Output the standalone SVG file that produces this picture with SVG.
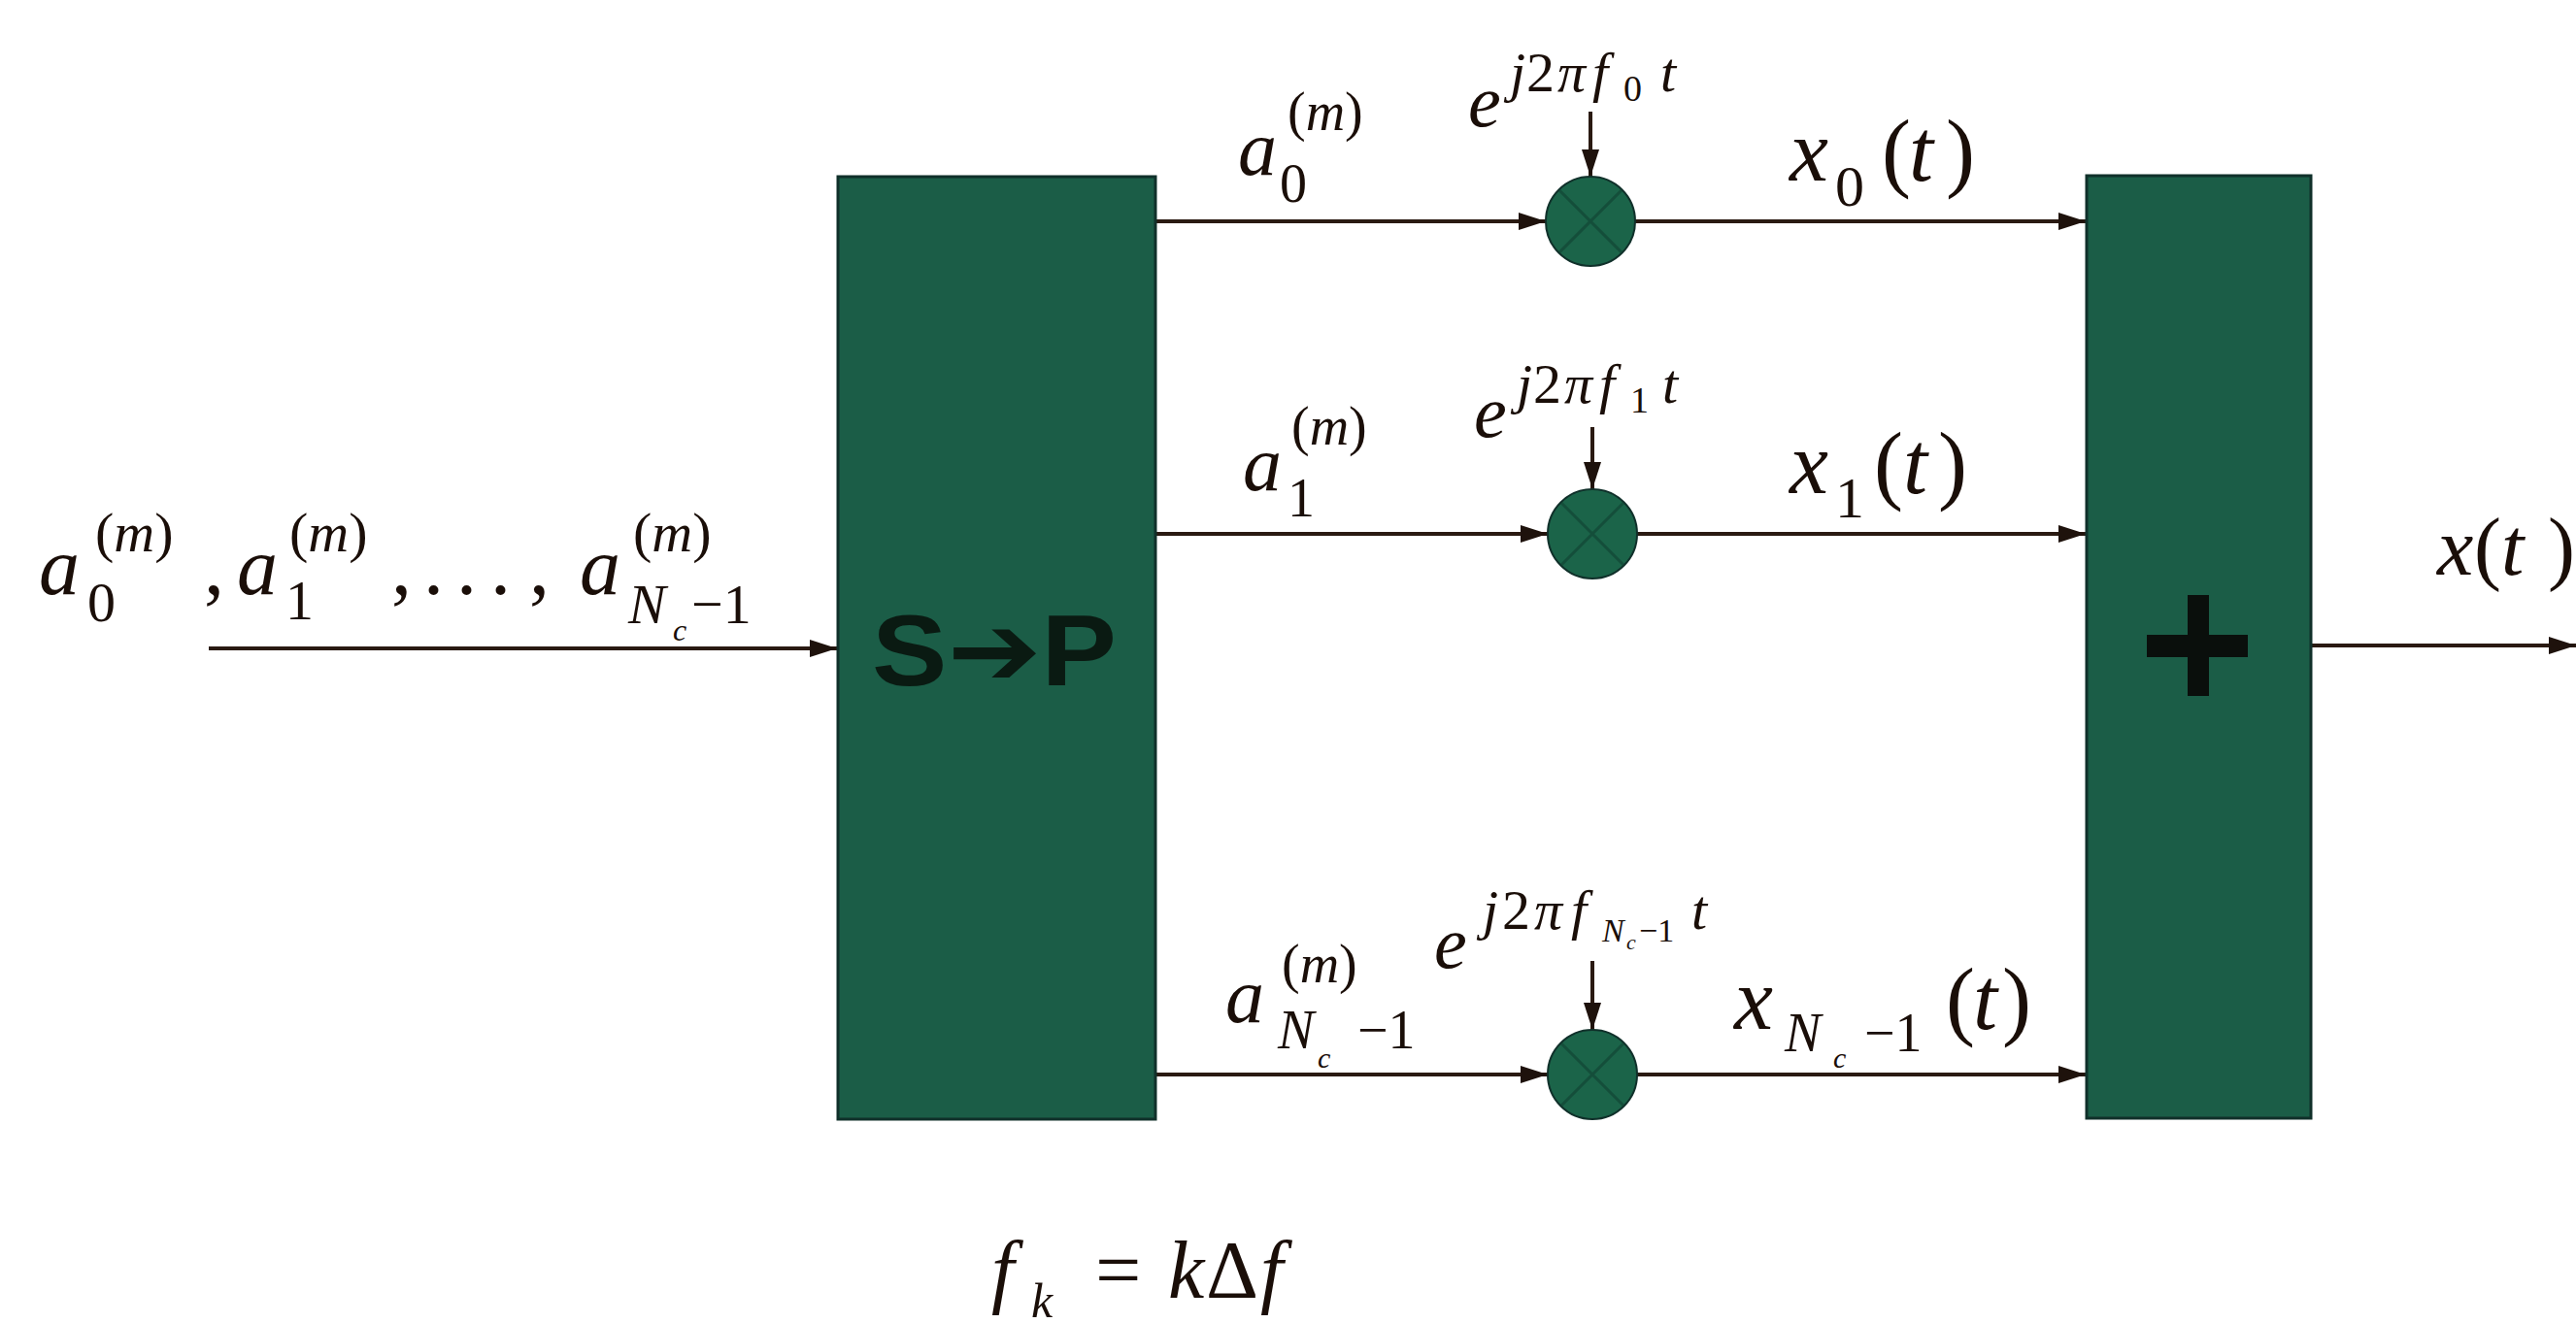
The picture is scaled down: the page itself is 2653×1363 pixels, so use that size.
<svg xmlns="http://www.w3.org/2000/svg" width="2653" height="1363" viewBox="0 0 2653 1363">
<defs>
<style>
.bg{fill:#ffffff}
.box{fill:#1b5d47;stroke:#10302a;stroke-width:3}
.mul{fill:#1b6449;stroke:#10302a;stroke-width:2}
.mx{stroke:#124534;stroke-width:3;opacity:0.7}
.ln{stroke:#2a1a12;stroke-width:4;fill:none}
.v{font-family:'Liberation Serif','DejaVu Serif','Times New Roman',serif;font-style:italic;fill:#1a0e08}
.n{font-family:'Liberation Serif','DejaVu Serif','Times New Roman',serif;font-style:normal;fill:#1a0e08}
.blk{font-family:'Liberation Sans','DejaVu Sans',Arial,sans-serif;font-weight:bold;fill:#0a1a12}
</style>
<marker id="ah" markerUnits="userSpaceOnUse" markerWidth="30" markerHeight="20" refX="28" refY="10" orient="auto">
<path d="M0,1 L28,10 L0,19 Z" fill="#1e120c"/>
</marker>
</defs>
<rect class="bg" x="0" y="0" width="2653" height="1363"/>

<g id="connectors">
<line class="ln" x1="215" y1="668" x2="862" y2="668" marker-end="url(#ah)"/>
<line class="ln" x1="1190" y1="228" x2="1592" y2="228" marker-end="url(#ah)"/>
<line class="ln" x1="1684" y1="228" x2="2148" y2="228" marker-end="url(#ah)"/>
<line class="ln" x1="1190" y1="550" x2="1594" y2="550" marker-end="url(#ah)"/>
<line class="ln" x1="1686" y1="550" x2="2148" y2="550" marker-end="url(#ah)"/>
<line class="ln" x1="1190" y1="1107" x2="1594" y2="1107" marker-end="url(#ah)"/>
<line class="ln" x1="1686" y1="1107" x2="2148" y2="1107" marker-end="url(#ah)"/>
<line class="ln" x1="1638" y1="115" x2="1638" y2="182" stroke-width="3" marker-end="url(#ah)"/>
<line class="ln" x1="1640" y1="440" x2="1640" y2="504" stroke-width="3" marker-end="url(#ah)"/>
<line class="ln" x1="1640" y1="990" x2="1640" y2="1061" stroke-width="3" marker-end="url(#ah)"/>
<line class="ln" x1="2380" y1="665" x2="2653" y2="665" marker-end="url(#ah)"/>
</g>

<g id="node-sp">
<rect class="box" x="863" y="182" width="327" height="971"/>
<text class="blk" x="1024" y="706" font-size="104" text-anchor="middle" textLength="252" lengthAdjust="spacingAndGlyphs">S➔P</text>
</g>

<g id="node-sum">
<rect class="box" x="2149" y="181" width="231" height="971"/>
<rect x="2211" y="654" width="104" height="23" fill="#0a0f0c"/>
<rect x="2253" y="613" width="22" height="104" fill="#0a0f0c"/>
</g>

<g id="node-mul0">
<circle class="mul" cx="1638" cy="228" r="46"/>
<path class="mx" d="M1606,196 L1670,260 M1670,196 L1606,260"/>
</g>
<g id="node-mul1">
<circle class="mul" cx="1640" cy="550" r="46"/>
<path class="mx" d="M1608,518 L1672,582 M1672,518 L1608,582"/>
</g>
<g id="node-mul2">
<circle class="mul" cx="1640" cy="1107" r="46"/>
<path class="mx" d="M1608,1075 L1672,1139 M1672,1075 L1608,1139"/>
</g>

<g id="label-input">
<text class="v" x="40" y="612" font-size="84">a</text>
<text class="n" x="90" y="640" font-size="58">0</text>
<text class="n" x="98" y="568" font-size="58">(<tspan class="v">m</tspan>)</text>
<text class="n" x="210" y="612" font-size="84">,</text>
<text class="v" x="244" y="612" font-size="84">a</text>
<text class="n" x="294" y="638" font-size="58">1</text>
<text class="n" x="298" y="568" font-size="58">(<tspan class="v">m</tspan>)</text>
<text class="n" x="403" y="612" font-size="84">,</text>
<text class="n" x="436" y="612" font-size="84">.</text>
<text class="n" x="470" y="612" font-size="84">.</text>
<text class="n" x="505" y="612" font-size="84">.</text>
<text class="n" x="545" y="612" font-size="84">,</text>
<text class="v" x="597" y="612" font-size="84">a</text>
<text class="n" x="652" y="568" font-size="58">(<tspan class="v">m</tspan>)</text>
<text class="v" x="647" y="642" font-size="58">N</text>
<text class="v" x="693" y="660" font-size="32">c</text>
<text class="n" x="712" y="642" font-size="58">−1</text>
</g>

<g id="label-row0">
<text class="v" x="1275" y="180" font-size="80">a</text>
<text class="n" x="1318" y="208" font-size="56">0</text>
<text class="n" x="1326" y="134" font-size="56">(<tspan class="v">m</tspan>)</text>
<text class="v" x="1512" y="130" font-size="76">e</text>
<text class="v" x="1555" y="94" font-size="58">j</text>
<text class="n" x="1572" y="94" font-size="58">2</text>
<text class="v" x="1604" y="94" font-size="58">π</text>
<text class="v" x="1640" y="94" font-size="58">f</text>
<text class="n" x="1672" y="104" font-size="38">0</text>
<text class="v" x="1710" y="94" font-size="58">t</text>
<text class="v" x="1843" y="186" font-size="90">x</text>
<text class="n" x="1890" y="212" font-size="60">0</text>
<text class="n" x="1938" y="186" font-size="90">(</text>
<text class="v" x="1966" y="186" font-size="90">t</text>
<text class="n" x="2004" y="186" font-size="90">)</text>
</g>

<g id="label-row1">
<text class="v" x="1280" y="505" font-size="80">a</text>
<text class="n" x="1326" y="532" font-size="56">1</text>
<text class="n" x="1330" y="458" font-size="56">(<tspan class="v">m</tspan>)</text>
<text class="v" x="1518" y="450" font-size="76">e</text>
<text class="v" x="1562" y="415" font-size="58">j</text>
<text class="n" x="1579" y="415" font-size="58">2</text>
<text class="v" x="1611" y="415" font-size="58">π</text>
<text class="v" x="1647" y="415" font-size="58">f</text>
<text class="n" x="1679" y="425" font-size="38">1</text>
<text class="v" x="1712" y="415" font-size="58">t</text>
<text class="v" x="1843" y="508" font-size="90">x</text>
<text class="n" x="1890" y="533" font-size="60">1</text>
<text class="n" x="1930" y="508" font-size="90">(</text>
<text class="v" x="1960" y="508" font-size="90">t</text>
<text class="n" x="1996" y="508" font-size="90">)</text>
</g>

<g id="label-row2">
<text class="v" x="1262" y="1053" font-size="80">a</text>
<text class="n" x="1320" y="1012" font-size="56">(<tspan class="v">m</tspan>)</text>
<text class="v" x="1316" y="1080" font-size="56">N</text>
<text class="v" x="1357" y="1100" font-size="30">c</text>
<text class="n" x="1398" y="1080" font-size="56">−1</text>
<text class="v" x="1477" y="997" font-size="76">e</text>
<text class="v" x="1527" y="957" font-size="58">j</text>
<text class="n" x="1547" y="957" font-size="58">2</text>
<text class="v" x="1580" y="957" font-size="58">π</text>
<text class="v" x="1618" y="957" font-size="58">f</text>
<text class="v" x="1650" y="970" font-size="34">N</text>
<text class="v" x="1675" y="978" font-size="22">c</text>
<text class="n" x="1688" y="970" font-size="34">−1</text>
<text class="v" x="1742" y="957" font-size="58">t</text>
<text class="v" x="1786" y="1060" font-size="90">x</text>
<text class="v" x="1838" y="1083" font-size="56">N</text>
<text class="v" x="1888" y="1100" font-size="30">c</text>
<text class="n" x="1920" y="1083" font-size="56">−1</text>
<text class="n" x="2004" y="1060" font-size="90">(</text>
<text class="v" x="2032" y="1060" font-size="90">t</text>
<text class="n" x="2062" y="1060" font-size="90">)</text>
</g>

<g id="label-output">
<text class="v" x="2510" y="592" font-size="84">x</text>
<text class="n" x="2548" y="592" font-size="84">(</text>
<text class="v" x="2576" y="592" font-size="84">t</text>
<text class="n" x="2624" y="592" font-size="84">)</text>
</g>

<g id="label-formula">
<text class="v" x="1021" y="1337" font-size="84">f</text>
<text class="v" x="1062" y="1357" font-size="50">k</text>
<text class="n" x="1128" y="1337" font-size="84">=</text>
<text class="v" x="1203" y="1337" font-size="84">k</text>
<text class="n" x="1242" y="1337" font-size="84">Δ</text>
<text class="v" x="1298" y="1337" font-size="84">f</text>
</g>
</svg>
